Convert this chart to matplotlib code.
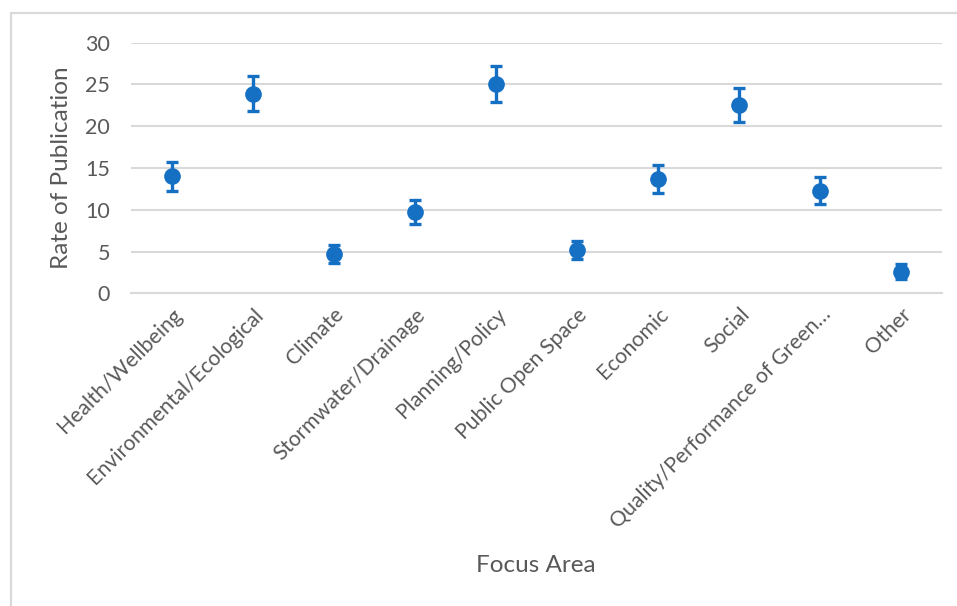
import matplotlib
matplotlib.use("Agg")
import matplotlib.pyplot as plt
from matplotlib.patches import Rectangle

plt.rcParams['font.family'] = ['Lato', 'DejaVu Sans']

categories = ["Health/Wellbeing", "Environmental/Ecological", "Climate",
              "Stormwater/Drainage", "Planning/Policy", "Public Open Space",
              "Economic", "Social", "Quality/Performance of Green…", "Other"]
rates = [14.0, 23.9, 4.7, 9.7, 25.1, 5.2, 13.7, 22.5, 12.3, 2.6]
errors = [1.7, 2.1, 1.05, 1.45, 2.15, 1.1, 1.7, 2.05, 1.6, 0.85]
yticks = [0, 5, 10, 15, 20, 25, 30]

W, H = 957, 606
fig = plt.figure(figsize=(W / 100, H / 100), dpi=100)
ax = fig.add_axes([131 / W, 1 - 293.3 / H, (942 - 131) / W, (293.3 - 42.7) / H])

# Chart-area border (partly cropped)
fig.patches.append(Rectangle((11 / W, -0.05), 1.1, 1 - 13 / H + 0.05,
                             transform=fig.transFigure, fill=False,
                             edgecolor='#d9d9d9', linewidth=1.6))

blue = '#1570c4'
x = list(range(len(categories)))
ax.errorbar(x, rates, yerr=errors, fmt='o', color=blue, ecolor=blue,
            markersize=11, elinewidth=2.4, capsize=4.5, capthick=2.4, zorder=3)

ax.set_xlim(-0.5, len(categories) - 0.5)
ax.set_ylim(0, 30)
ax.set_yticks(yticks)
ax.set_yticklabels([str(t) for t in yticks], fontsize=15.5, color='#595959')
ax.set_xticks(x)
ax.set_xticklabels(categories, rotation=45, ha='right', rotation_mode='anchor',
                   fontsize=15.3, color='#595959')
ax.tick_params(axis='both', length=0)
ax.tick_params(axis='y', pad=15)
ax.tick_params(axis='x', pad=8)

ax.grid(axis='y', color='#d9d9d9', linewidth=1.5, zorder=0)
ax.set_axisbelow(True)
for s in ['top', 'right', 'left']:
    ax.spines[s].set_visible(False)
ax.spines['bottom'].set_color('#d9d9d9')
ax.spines['bottom'].set_linewidth(1.5)

ax.set_ylabel("Rate of Publication", fontsize=17.5, color='#595959')
ax.yaxis.set_label_coords((72 - 131) / (942 - 131), 0.5)
fig.text(536 / W, 1 - 565 / H, "Focus Area", fontsize=17.5, color='#595959',
         ha='center', va='center')

fig.savefig("out.png", dpi=100, facecolor='white')
